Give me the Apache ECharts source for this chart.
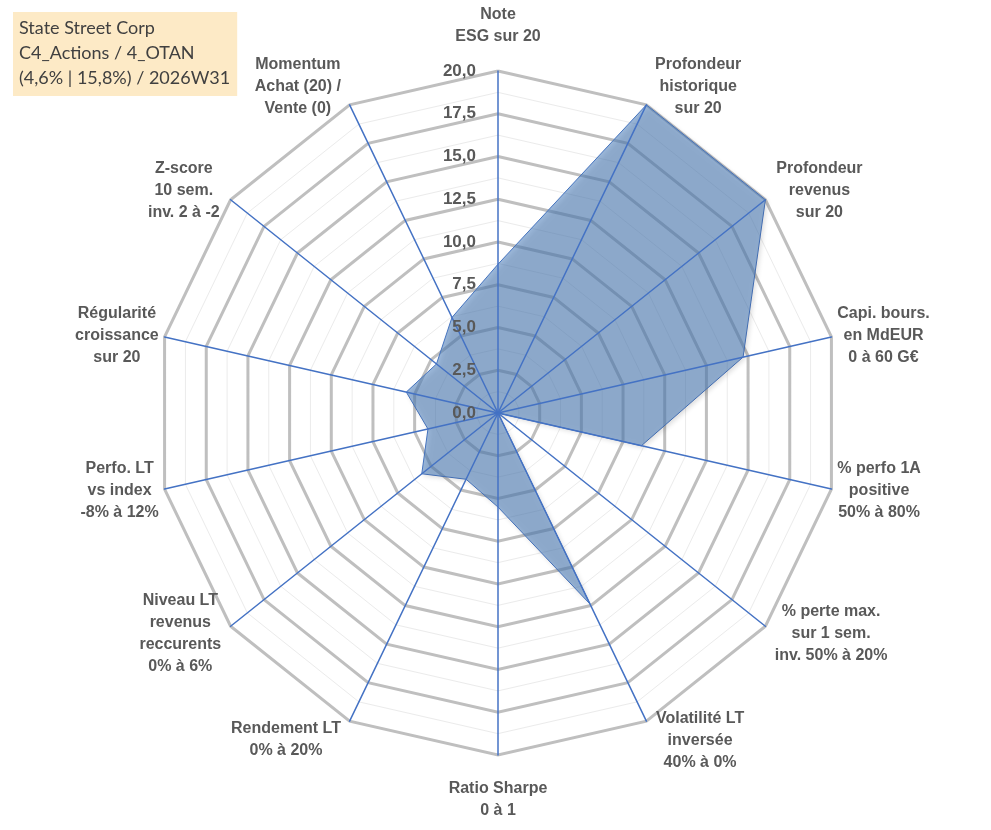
<!DOCTYPE html>
<html>
<head>
<meta charset="utf-8">
<script src="https://cdn.jsdelivr.net/npm/echarts@6/dist/echarts.min.js"></script>
<style>
html,body{margin:0;padding:0;background:#fff;}
#frame{position:absolute;left:0;top:0;width:979px;height:825px;border:1px solid #c8c8c8;}
#chart{position:absolute;left:0;top:0;width:991px;height:830px;}
</style>
</head>
<body>
<div id="frame"></div>
<div id="chart"></div>
<script>
// ---- data (clockwise order starting at the top) ----
const indicatorNames = [
  'Note\nESG sur 20',
  'Profondeur\nhistorique\nsur 20',
  'Profondeur\nrevenus\nsur 20',
  'Capi. bours.\nen MdEUR\n0 à 60 G€',
  '% perfo 1A\npositive\n50% à 80%',
  '% perte max.\nsur 1 sem.\ninv. 50% à 20%',
  'Volatilité LT\ninversée\n40% à 0%',
  'Ratio Sharpe\n0 à 1',
  'Rendement LT\n0% à 20%',
  'Niveau LT\nrevenus\nreccurents\n0% à 6%',
  'Perfo. LT\nvs index\n-8% à 12%',
  'Régularité\ncroissance\nsur 20',
  'Z-score\n10 sem.\ninv. 2 à -2',
  'Momentum\nAchat (20) /\nVente (0)'
];
const scores = [8.7, 20, 20, 14.7, 8.6, 0, 12.4, 5.5, 4.3, 5.7, 4.2, 5.5, 4.6, 6.2];
const tickLabels = ['0,0', '2,5', '5,0', '7,5', '10,0', '12,5', '15,0', '17,5', '20,0'];
const titleLines = ['State Street Corp', 'C4_Actions / 4_OTAN', '(4,6% | 15,8%) / 2026W31'];
const axisMin = 0, axisMax = 20;

// ---- layout / style ----
const nameGaps = [23, 20, 14, 6, 6, 12, 22, 23, 20, 12, 6, 6, 14, 20];
const CENTER = [498, 413];
const RADIUS = 342;
const TXT = '#595959';
const FONT = 'Liberation Sans, Arial, sans-serif';

// ECharts lays radar indicators counter-clockwise; reorder so the chart reads clockwise
const order = [0].concat(indicatorNames.map((_, i) => i).slice(1).reverse());

function baseIndicators() {
  return order.map(i => ({ name: indicatorNames[i], min: axisMin, max: axisMax }));
}

const chart = echarts.init(document.getElementById('chart'), null, { renderer: 'canvas' });

const topIndicators = order.map(i => {
  const o = { name: indicatorNames[i], min: axisMin, max: axisMax, nameGap: nameGaps[i] };
  if (i === 0) {
    o.axisLabel = {
      show: true,
      margin: 22,
      color: TXT,
      fontFamily: FONT,
      fontWeight: 'bold',
      fontSize: 17,
      formatter: function (v) { return tickLabels[Math.round((v - axisMin) / 2.5)]; }
    };
  }
  return o;
});

const option = {
  backgroundColor: '#ffffff',
  animation: false,
  title: {
    text: titleLines.join('\n'),
    left: 13,
    top: 12,
    backgroundColor: '#FDEAC6',
    padding: [4, 7, 5, 6],
    textStyle: {
      fontFamily: 'Lato, Liberation Sans, sans-serif',
      fontWeight: 'normal',
      fontSize: 18,
      lineHeight: 25,
      color: '#404040'
    }
  },
  radar: [
    {
      center: CENTER, radius: RADIUS, startAngle: 90, shape: 'polygon', splitNumber: 16,
      indicator: baseIndicators(),
      axisName: { show: false },
      axisLine: { show: false },
      axisTick: { show: false },
      axisLabel: { show: false },
      splitArea: { show: false },
      splitLine: { lineStyle: { color: '#ebebeb', width: 1 } },
      z: 0
    },
    {
      center: CENTER, radius: RADIUS, startAngle: 90, shape: 'polygon', splitNumber: 8,
      indicator: baseIndicators(),
      axisName: { show: false },
      axisLine: { show: false },
      axisTick: { show: false },
      axisLabel: { show: false },
      splitArea: { show: false },
      splitLine: { lineStyle: { color: '#bfbfbf', width: 3 } },
      z: 0
    },
    {
      center: CENTER, radius: RADIUS, startAngle: 90, shape: 'polygon', splitNumber: 8,
      indicator: topIndicators,
      nameGap: 14,
      axisName: {
        color: TXT,
        fontFamily: FONT,
        fontWeight: 'bold',
        fontSize: 16,
        lineHeight: 22,
        formatter: function (name) {
          return name.split('\n').map(s => '{c|' + s + '}').join('\n');
        },
        rich: {
          c: { align: 'center', color: TXT, fontFamily: FONT, fontWeight: 'bold', fontSize: 16, lineHeight: 22 }
        }
      },
      axisLine: { show: true, lineStyle: { color: '#4472C4', width: 1.5 } },
      axisTick: { show: false },
      axisLabel: { show: false },
      splitArea: { show: false },
      splitLine: { show: false },
      z: 3
    }
  ],
  series: [
    {
      type: 'radar',
      radarIndex: 2,
      symbol: 'none',
      z: 2,
      lineStyle: { color: '#4472C4', width: 1 },
      areaStyle: {
        color: 'rgba(79,129,189,0.8)',
        shadowBlur: 5,
        shadowColor: 'rgba(0,0,0,0.25)',
        shadowOffsetX: 2,
        shadowOffsetY: 2
      },
      data: [{ value: order.map(i => scores[i]), name: titleLines[0] }]
    }
  ]
};

chart.setOption(option);
</script>
</body>
</html>
